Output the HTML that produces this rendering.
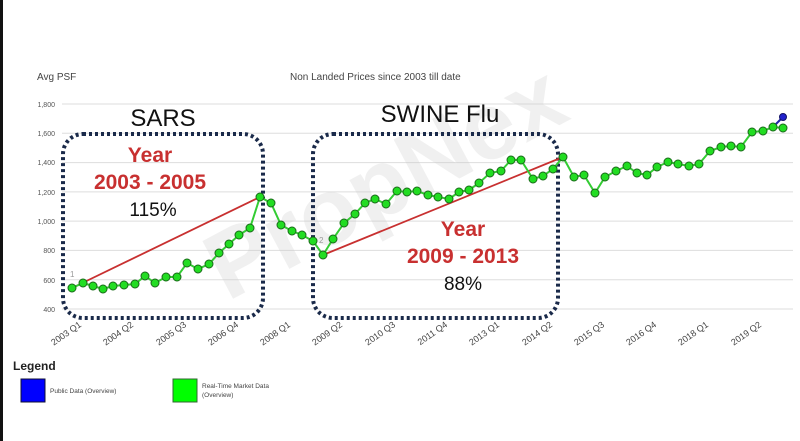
<!DOCTYPE html>
<html><head><meta charset="utf-8"><style>
html,body{margin:0;padding:0;background:#fff}
svg{display:block}
text{font-family:"Liberation Sans",sans-serif}
</style></head><body>
<svg width="800" height="441" viewBox="0 0 800 441" xmlns="http://www.w3.org/2000/svg">
<rect width="800" height="441" fill="#fff"/>
<rect x="0" y="0" width="3" height="441" fill="#111"/>
<text x="37" y="80" font-size="10" fill="#444">Avg PSF</text>
<text x="290" y="80" font-size="10" fill="#444">Non Landed Prices since 2003 till date</text>
<g stroke="#ddd" stroke-width="1">
<line x1="62" y1="104" x2="793" y2="104"/><line x1="62" y1="133.3" x2="793" y2="133.3"/>
<line x1="62" y1="162.6" x2="793" y2="162.6"/><line x1="62" y1="191.9" x2="793" y2="191.9"/>
<line x1="62" y1="221.1" x2="793" y2="221.1"/><line x1="62" y1="250.4" x2="793" y2="250.4"/>
<line x1="62" y1="279.7" x2="793" y2="279.7"/><line x1="62" y1="309" x2="793" y2="309"/>
</g>
<g font-size="7" fill="#555" text-anchor="end">
<text x="55" y="107">1,800</text><text x="55" y="136">1,600</text><text x="55" y="165">1,400</text>
<text x="55" y="195">1,200</text><text x="55" y="224">1,000</text><text x="55" y="253">800</text>
<text x="55" y="283">600</text><text x="55" y="312">400</text>
</g>
<text x="400" y="210" font-size="95" font-weight="bold" fill="#ccc" opacity="0.28" transform="rotate(-28 400 210)" text-anchor="middle">PropNex</text>
<g fill="none" stroke="#1a2a4a" stroke-width="4" stroke-dasharray="3 3">
<rect x="63" y="134" width="200" height="184" rx="20"/>
<rect x="313" y="134" width="245" height="184" rx="20"/>
</g>
<line x1="72" y1="288" x2="260" y2="197" stroke="#c83030" stroke-width="1.8"/>
<line x1="323" y1="255" x2="563" y2="157" stroke="#c83030" stroke-width="1.8"/>
<polyline fill="none" stroke="#3c3" stroke-width="2" points="72,288 83,283 93,286 103,289 113,286 124,285 135,284 145,276 155,283 166,277 177,277 187,263 198,269 209,264 219,253 229,244 239,235 250,228 260,197 271,203 281,225 292,231 302,235 313,241 323,255 333,239 344,223 355,214 365,203 375,199 386,204 397,191 407,192 417,191 428,195 438,197 449,199 459,192 469,190 479,183 490,173 501,171 511,160 521,160 533,179 543,176 553,169 563,157 574,177 584,175 595,193 605,177 616,171 627,166 637,173 647,175 657,167 668,162 678,164 689,166 699,164 710,151 721,147 731,146 741,147 752,132 763,131 773,127 783,128"/>
<line x1="773" y1="127" x2="783" y2="117" stroke="#22a" stroke-width="2"/>
<g fill="#2d2" stroke="#1a6a1a" stroke-width="1">
<circle cx="72" cy="288" r="4"/><circle cx="83" cy="283" r="4"/><circle cx="93" cy="286" r="4"/><circle cx="103" cy="289" r="4"/><circle cx="113" cy="286" r="4"/><circle cx="124" cy="285" r="4"/><circle cx="135" cy="284" r="4"/><circle cx="145" cy="276" r="4"/><circle cx="155" cy="283" r="4"/><circle cx="166" cy="277" r="4"/><circle cx="177" cy="277" r="4"/><circle cx="187" cy="263" r="4"/><circle cx="198" cy="269" r="4"/><circle cx="209" cy="264" r="4"/><circle cx="219" cy="253" r="4"/><circle cx="229" cy="244" r="4"/><circle cx="239" cy="235" r="4"/><circle cx="250" cy="228" r="4"/><circle cx="260" cy="197" r="4"/><circle cx="271" cy="203" r="4"/><circle cx="281" cy="225" r="4"/><circle cx="292" cy="231" r="4"/><circle cx="302" cy="235" r="4"/><circle cx="313" cy="241" r="4"/><circle cx="323" cy="255" r="4"/><circle cx="333" cy="239" r="4"/><circle cx="344" cy="223" r="4"/><circle cx="355" cy="214" r="4"/><circle cx="365" cy="203" r="4"/><circle cx="375" cy="199" r="4"/><circle cx="386" cy="204" r="4"/><circle cx="397" cy="191" r="4"/><circle cx="407" cy="192" r="4"/><circle cx="417" cy="191" r="4"/><circle cx="428" cy="195" r="4"/><circle cx="438" cy="197" r="4"/><circle cx="449" cy="199" r="4"/><circle cx="459" cy="192" r="4"/><circle cx="469" cy="190" r="4"/><circle cx="479" cy="183" r="4"/><circle cx="490" cy="173" r="4"/><circle cx="501" cy="171" r="4"/><circle cx="511" cy="160" r="4"/><circle cx="521" cy="160" r="4"/><circle cx="533" cy="179" r="4"/><circle cx="543" cy="176" r="4"/><circle cx="553" cy="169" r="4"/><circle cx="563" cy="157" r="4"/><circle cx="574" cy="177" r="4"/><circle cx="584" cy="175" r="4"/><circle cx="595" cy="193" r="4"/><circle cx="605" cy="177" r="4"/><circle cx="616" cy="171" r="4"/><circle cx="627" cy="166" r="4"/><circle cx="637" cy="173" r="4"/><circle cx="647" cy="175" r="4"/><circle cx="657" cy="167" r="4"/><circle cx="668" cy="162" r="4"/><circle cx="678" cy="164" r="4"/><circle cx="689" cy="166" r="4"/><circle cx="699" cy="164" r="4"/><circle cx="710" cy="151" r="4"/><circle cx="721" cy="147" r="4"/><circle cx="731" cy="146" r="4"/><circle cx="741" cy="147" r="4"/><circle cx="752" cy="132" r="4"/><circle cx="763" cy="131" r="4"/><circle cx="773" cy="127" r="4"/><circle cx="783" cy="128" r="4"/>
</g>
<circle cx="783" cy="117" r="3.5" fill="#22c" stroke="#116"/>
<text x="70" y="277" font-size="8" fill="#999">1</text>
<text x="319" y="243" font-size="8" fill="#999">2</text>
<text x="163" y="126" font-size="24" fill="#111" text-anchor="middle">SARS</text>
<text x="150" y="162" font-size="21" font-weight="bold" fill="#c83030" text-anchor="middle">Year</text>
<text x="150" y="189" font-size="21" font-weight="bold" fill="#c83030" text-anchor="middle">2003 - 2005</text>
<text x="153" y="216" font-size="19" fill="#111" text-anchor="middle">115%</text>
<text x="440" y="122" font-size="24" fill="#111" text-anchor="middle">SWINE Flu</text>
<text x="463" y="236" font-size="21" font-weight="bold" fill="#c83030" text-anchor="middle">Year</text>
<text x="463" y="263" font-size="21" font-weight="bold" fill="#c83030" text-anchor="middle">2009 - 2013</text>
<text x="463" y="290" font-size="19" fill="#111" text-anchor="middle">88%</text>
<g font-size="9" fill="#444" text-anchor="end">
<text transform="translate(82 326) rotate(-35)">2003 Q1</text>
<text transform="translate(134 326) rotate(-35)">2004 Q2</text>
<text transform="translate(187 326) rotate(-35)">2005 Q3</text>
<text transform="translate(239 326) rotate(-35)">2006 Q4</text>
<text transform="translate(291 326) rotate(-35)">2008 Q1</text>
<text transform="translate(343 326) rotate(-35)">2009 Q2</text>
<text transform="translate(396 326) rotate(-35)">2010 Q3</text>
<text transform="translate(448 326) rotate(-35)">2011 Q4</text>
<text transform="translate(500 326) rotate(-35)">2013 Q1</text>
<text transform="translate(553 326) rotate(-35)">2014 Q2</text>
<text transform="translate(605 326) rotate(-35)">2015 Q3</text>
<text transform="translate(657 326) rotate(-35)">2016 Q4</text>
<text transform="translate(709 326) rotate(-35)">2018 Q1</text>
<text transform="translate(762 326) rotate(-35)">2019 Q2</text>
</g>
<text x="13" y="370" font-size="12" font-weight="bold" fill="#222">Legend</text>
<rect x="21" y="379" width="24" height="23" fill="#00f" stroke="#113"/>
<text x="50" y="393" font-size="6.5" fill="#444">Public Data (Overview)</text>
<rect x="173" y="379" width="24" height="23" fill="#0f0" stroke="#363"/>
<text x="202" y="388" font-size="6.5" fill="#444">Real-Time Market Data</text>
<text x="202" y="397" font-size="6.5" fill="#444">(Overview)</text>
</svg>
</body></html>
